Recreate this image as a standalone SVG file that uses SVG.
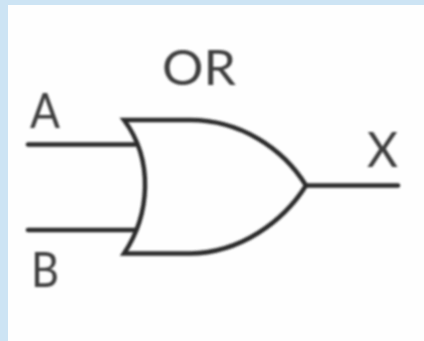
<svg xmlns="http://www.w3.org/2000/svg" width="424" height="341" viewBox="0 0 424 341">
<defs><filter id="soft" x="-5%" y="-5%" width="110%" height="110%"><feGaussianBlur stdDeviation="0.8"/></filter></defs>
<style>
.w{fill:none;stroke:#2a2a2a;stroke-width:4.500;stroke-linecap:round;stroke-linejoin:miter}
.t{font-family:"Lato","Liberation Sans",sans-serif;font-size:49px;fill:#3c3c3c}
</style>
<rect width="424" height="341" fill="#cde4f4"/>
<rect x="8" y="5" width="416" height="336" fill="#fefefe"/>
<g filter="url(#soft)">
<g id="connectors">
<path class="w" d="M28 144.500H135"/>
<path class="w" d="M28 230H135"/>
<path class="w" d="M306 185.500H398"/>
</g>
<g id="or-gate">
<path class="w" d="M124 120H190C240 120 283 148 306 185.500C283 222 240 253 190 253.500H124C150 215 154 160 124 120Z"/>
</g>
<g id="label-or"><text class="t" x="162" y="85" textLength="74" lengthAdjust="spacingAndGlyphs">OR</text></g>
<g id="label-a"><text class="t" x="30" y="128" textLength="30" lengthAdjust="spacingAndGlyphs">A</text></g>
<g id="label-b"><text class="t" x="31" y="287" textLength="28" lengthAdjust="spacingAndGlyphs">B</text></g>
<g id="label-x"><text class="t" x="367" y="167" textLength="31" lengthAdjust="spacingAndGlyphs">X</text></g>
</g>
</svg>
